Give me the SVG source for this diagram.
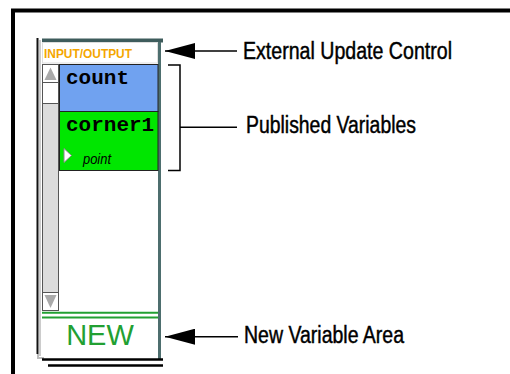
<svg xmlns="http://www.w3.org/2000/svg" width="510" height="374" viewBox="0 0 510 374">
<style>
.lbl{font-family:"Liberation Sans",Arial,sans-serif;font-size:23.5px;fill:#000;stroke:#000;stroke-width:0.45}
.var{font-family:"Liberation Mono","Courier New",monospace;font-weight:bold;font-size:21px;fill:#000}
.sb{fill:#fff;stroke:#555;stroke-width:1}
</style>
<defs>
<marker id="ah" markerWidth="30" markerHeight="16" refX="30" refY="8" orient="auto" markerUnits="userSpaceOnUse">
<path d="M0,0 L30,8 L0,16 Z" fill="#000"/>
</marker>
</defs>
<rect width="510" height="374" fill="#fff"/>
<g id="frame">
<path d="M13,374 V10.5 H510" fill="none" stroke="#000" stroke-width="4"/>
</g>
<g id="panel">
<line x1="37.5" y1="38" x2="37.5" y2="354" stroke="#111" stroke-width="2"/>
<line x1="40" y1="40" x2="40" y2="356" stroke="#ccc" stroke-width="2"/>
<rect x="42" y="38.5" width="121" height="4" fill="#3e5c5c"/>
<rect x="158" y="42" width="3" height="317" fill="#4d6e6e"/>
<path d="M38,354 V358 H44" fill="none" stroke="#bbb" stroke-width="2"/>
<line x1="42" y1="359.5" x2="163" y2="359.5" stroke="#000" stroke-width="2.5"/>
<line x1="48" y1="365.5" x2="163" y2="365.5" stroke="#000" stroke-width="2.5"/>
</g>
<g id="header">
<rect x="42.5" y="42.5" width="115" height="20.5" fill="#fff" stroke="#ddd" stroke-width="1"/>
<text x="44" y="58" font-family="'Liberation Sans',Arial,sans-serif" font-weight="bold" font-size="12.5" fill="#f4a600" textLength="88" lengthAdjust="spacingAndGlyphs">INPUT/OUTPUT</text>
</g>
<g id="scrollbar">
<rect x="42.5" y="64.5" width="16" height="246" fill="#dcdcdc" stroke="#555"/>
<rect x="42.5" y="64.5" width="16" height="18" class="sb"/>
<rect x="42.5" y="82.5" width="16" height="21" fill="#fff" stroke="#555"/>
<path d="M44.5,80 L50.5,67.5 L56.5,80 Z" fill="#aaa"/>
<rect x="42.5" y="292.5" width="16" height="18" class="sb"/>
<path d="M44.5,295 L50.5,308 L56.5,295 Z" fill="#aaa"/>
</g>
<g id="count">
<rect x="59.5" y="64.5" width="98.5" height="47" fill="#70a2f0" stroke="#222" stroke-width="1"/>
<text x="66" y="84" class="var">count</text>
</g>
<g id="corner1">
<rect x="59.5" y="111.5" width="98.5" height="59" fill="#00e600" stroke="#222" stroke-width="1"/>
<text x="66" y="131" class="var">corner1</text>
<path d="M64,148.5 L71.5,155.5 L64,162.5 Z" fill="#fff" stroke="#888" stroke-width="1"/>
<text x="83" y="164" font-family="'Liberation Sans',Arial,sans-serif" font-style="italic" font-size="14" fill="#000" textLength="28" lengthAdjust="spacingAndGlyphs">point</text>
</g>
<g id="newarea">
<line x1="42" y1="312.7" x2="158" y2="312.7" stroke="#22a032" stroke-width="2"/>
<line x1="42" y1="317.5" x2="158" y2="317.5" stroke="#22a032" stroke-width="2"/>
<text x="100" y="345" text-anchor="middle" font-family="'Liberation Sans',Arial,sans-serif" font-size="29" fill="#22a032">NEW</text>
</g>
<g id="connectors" stroke="#000" stroke-width="1.5" fill="none">
<line x1="237" y1="51" x2="165" y2="51" marker-end="url(#ah)"/>
<path d="M168,65 H180 V170.5 H168"/>
<line x1="180" y1="127.3" x2="237" y2="127.3"/>
<line x1="238" y1="336.7" x2="165" y2="336.7" marker-end="url(#ah)"/>
</g>
<g id="label-external">
<text x="243" y="59" class="lbl" textLength="209" lengthAdjust="spacingAndGlyphs">External Update Control</text>
</g>
<g id="label-published">
<text x="246" y="133.3" class="lbl" textLength="170" lengthAdjust="spacingAndGlyphs">Published Variables</text>
</g>
<g id="label-new">
<text x="244" y="343.3" class="lbl" textLength="160" lengthAdjust="spacingAndGlyphs">New Variable Area</text>
</g>
</svg>
